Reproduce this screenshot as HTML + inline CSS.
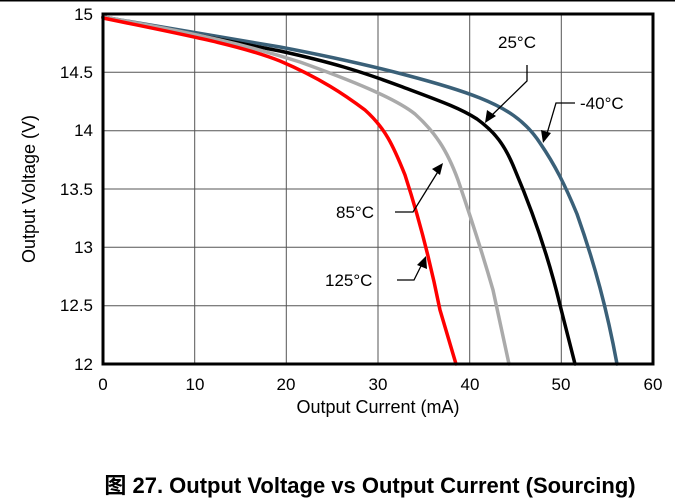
<!DOCTYPE html>
<html><head><style>body{margin:0;background:#fff}svg{display:block}text{font-family:"Liberation Sans","Noto Sans CJK SC",sans-serif}</style></head><body>
<svg width="675" height="502" viewBox="0 0 675 502">
<line x1="0" y1="0.8" x2="675" y2="0.8" stroke="#000" stroke-width="1.5"/>
<g stroke="#555" stroke-width="1">
<line x1="194.7" y1="14" x2="194.7" y2="364"/><line x1="286.3" y1="14" x2="286.3" y2="364"/><line x1="378" y1="14" x2="378" y2="364"/><line x1="469.7" y1="14" x2="469.7" y2="364"/><line x1="561.3" y1="14" x2="561.3" y2="364"/>
<line x1="103" y1="72.3" x2="653" y2="72.3"/><line x1="103" y1="130.7" x2="653" y2="130.7"/><line x1="103" y1="189" x2="653" y2="189"/><line x1="103" y1="247.3" x2="653" y2="247.3"/><line x1="103" y1="305.7" x2="653" y2="305.7"/>
</g>
<g fill="none" stroke-width="3.5" stroke-linejoin="round" stroke-linecap="round">
<path stroke="#3a6078" d="M103,17 L280,47 C380,66 450,86 480,98 C505,108 525,120 540,143 C555,165 565,185 577,214 C595,265 607,310 617,364"/>
<path stroke="#000" d="M103,17 L280,51 C330,62 360,71 400,86 C440,101 460,108 477,119 C495,132 505,145 515,170 C532,210 548,255 560,305 L575,364"/>
<path stroke="#aaa" d="M103,17 C200,34 250,46 300,62 C350,80 395,98 415,114 C435,132 447,150 458,180 C470,215 480,245 493,290 L509,364"/>
<path stroke="#f00" d="M103,18 C180,34 240,45 280,61 C320,78 345,95 365,110 C385,128 393,145 405,175 C418,215 430,260 440,310 L456,364"/>
</g>
<rect x="103" y="14" width="550" height="350" fill="none" stroke="#000" stroke-width="3"/>
<g stroke="#000" stroke-width="1.3" fill="none">
<polyline points="527,65 527,81 490,117"/>
<polyline points="575,103 556,103 546,137"/>
<polyline points="395,212 413,212 439,170"/>
<polyline points="397,280 414,280 422,264"/>
</g>
<g fill="#000">
<polygon points="485,123 487,110 496,116"/>
<polygon points="543,143 541,130 551,133"/>
<polygon points="443,163 432,169 440,175"/>
<polygon points="426,256 417,265 427,269"/>
</g>
<g font-size="17" fill="#000">
<text x="498" y="48">25°C</text>
<text x="580" y="109">-40°C</text>
<text x="336" y="218">85°C</text>
<text x="325" y="286">125°C</text>
</g>
<g font-size="17" text-anchor="end" fill="#000">
<text x="93" y="20">15</text><text x="93" y="78">14.5</text><text x="93" y="136">14</text><text x="93" y="195">13.5</text><text x="93" y="253">13</text><text x="93" y="311">12.5</text><text x="93" y="370">12</text>
</g>
<g font-size="17" text-anchor="middle" fill="#000">
<text x="103" y="390">0</text><text x="195" y="390">10</text><text x="286" y="390">20</text><text x="378" y="390">30</text><text x="470" y="390">40</text><text x="561" y="390">50</text><text x="653" y="390">60</text>
<text x="378" y="413" font-size="18">Output Current (mA)</text>
<text transform="translate(35,189) rotate(-90)" font-size="18">Output Voltage (V)</text>
<text x="370" y="493" font-weight="bold" font-size="22">图 27. Output Voltage vs Output Current (Sourcing)</text>
</g>
</svg>
</body></html>
